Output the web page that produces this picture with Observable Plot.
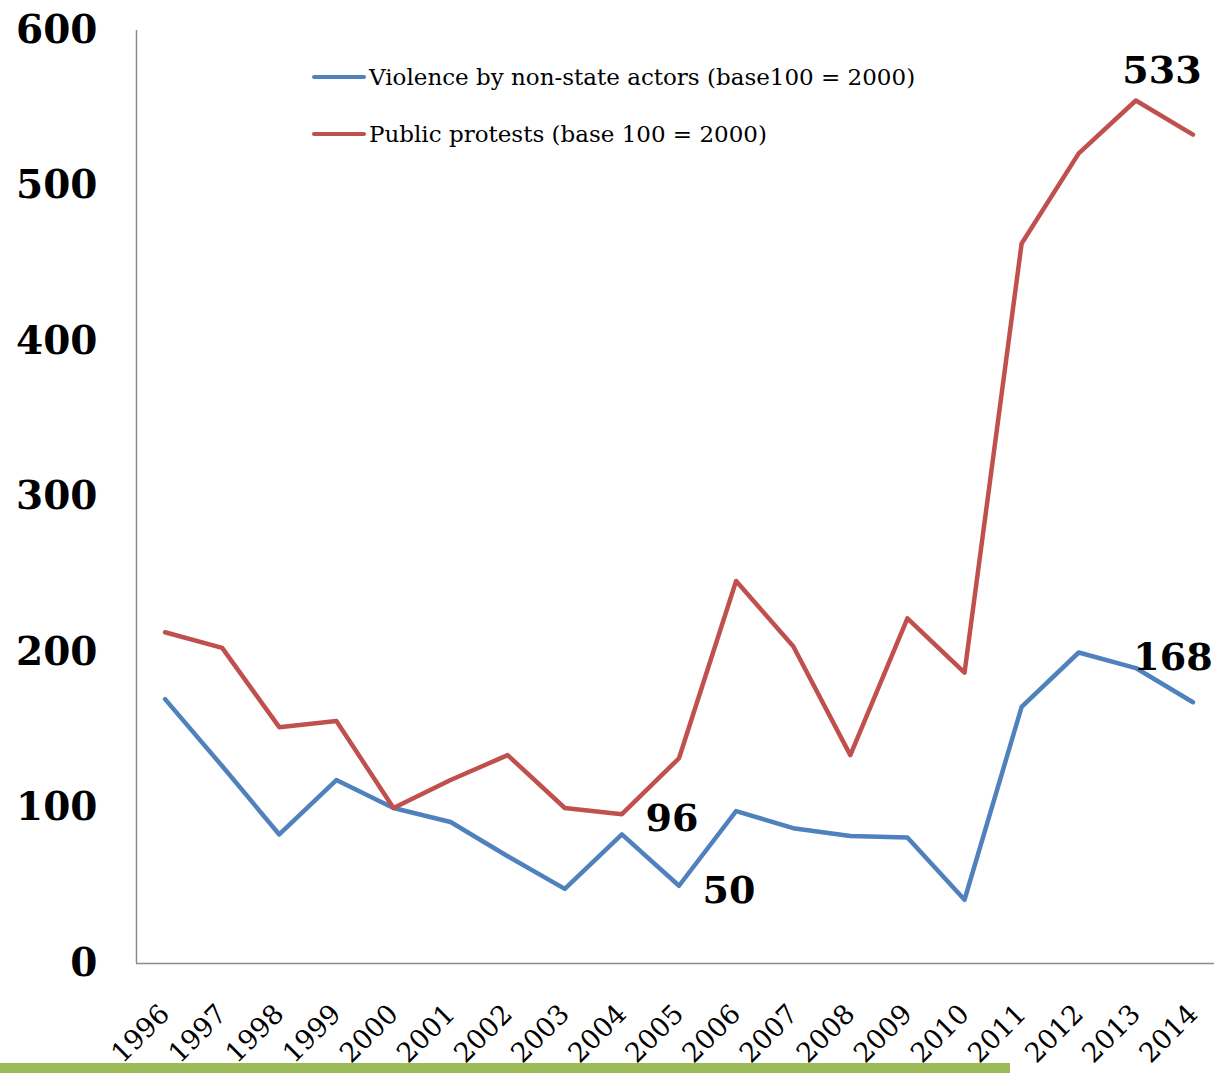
<!DOCTYPE html>
<html><head><meta charset="utf-8">
<script src="https://cdn.jsdelivr.net/npm/d3@7"></script>
<script src="https://cdn.jsdelivr.net/npm/@observablehq/plot@0.6"></script>
<style>
body{margin:0;background:#fff;}
#wrap{position:relative;width:1214px;height:1073px;overflow:hidden;background:#fff}
#green{position:absolute;left:0;top:1063px;width:1010px;height:10px;background:#9BBB59}
#chart{position:absolute;left:0;top:0}
.leg{position:absolute;left:312px;height:40px;display:flex;align-items:center;font-family:"DejaVu Serif",serif;font-size:23px;color:#000;white-space:nowrap}
.leg span.sw{display:inline-block;width:54px;height:4.5px;border-radius:2px;margin-right:3px}
</style></head>
<body>
<div id="wrap">
<div id="green"></div>
<div id="chart"></div>
<div id="legend"></div>
</div>
<script>
const years = [1996,1997,1998,1999,2000,2001,2002,2003,2004,2005,2006,2007,2008,2009,2010,2011,2012,2013,2014];
const violence = [170,127,83,118,100,91,69,48,83,50,98,87,82,81,41,165,200,190,168];
const protests = [213,203,152,156,100,118,134,100,96,132,246,204,134,222,187,463,521,555,533];
const yTicks = [0,100,200,300,400,500,600];
const seriesNames = ["Violence by non-state actors (base100 = 2000)", "Public protests (base 100 = 2000)"];
const seriesColors = ["#4F81BD", "#C0504D"];
const annotations = [
  {year:2014, value:533, label:"533"},
  {year:2014, value:168, label:"168"},
  {year:2004, value:96, label:"96"},
  {year:2005, value:50, label:"50"}
];
const annOffsets = [[-31,-64],[-20,-44],[50,5],[50,5]];

const vData = years.map((y,i)=>({year:y, value:violence[i]}));
const pData = years.map((y,i)=>({year:y, value:protests[i]}));

const chart = Plot.plot({
  width:1214, height:1073,
  marginLeft:136, marginRight:0, marginTop:30, marginBottom:110,
  x:{domain:[1995.5,2014.5], range:[136,1221]},
  y:{domain:[0,600], range:[963,30]},
  style:{background:"transparent", overflow:"visible"},
  marks:[
    Plot.ruleY([0],{stroke:"#8c8c8c", strokeWidth:1.5}),
    Plot.ruleX([1995.5],{stroke:"#8c8c8c", strokeWidth:1.5}),
    Plot.axisY({ticks:yTicks, tickSize:0, tickPadding:39, fontSize:39, fontWeight:"bold", fontFamily:"DejaVu Serif", label:null, tickFormat:d=>String(d)}),
    Plot.axisX({ticks:years, tickSize:0, tickPadding:46, tickRotate:-45, fontSize:27, fontFamily:"DejaVu Serif", label:null, tickFormat:d=>String(d)}),
    Plot.lineY(vData,{x:"year", y:"value", stroke:seriesColors[0], strokeWidth:4.5, strokeLinejoin:"round"}),
    Plot.lineY(pData,{x:"year", y:"value", stroke:seriesColors[1], strokeWidth:4.5, strokeLinejoin:"round"}),
    ...annotations.map((a,i)=>Plot.text([a],{x:"year", y:"value", text:"label", dx:annOffsets[i][0], dy:annOffsets[i][1], fontSize:38, fontWeight:"bold", fontFamily:"DejaVu Serif", fill:"#000"}))
  ]
});
document.getElementById("chart").appendChild(chart);

const legend = document.getElementById("legend");
const legTops = [57, 114];
seriesNames.forEach((n,i)=>{
  const d = document.createElement("div");
  d.className = "leg";
  d.style.top = legTops[i] + "px";
  d.innerHTML = `<span class="sw" style="background:${seriesColors[i]}"></span><span>${n}</span>`;
  legend.appendChild(d);
});
</script>
</body></html>
